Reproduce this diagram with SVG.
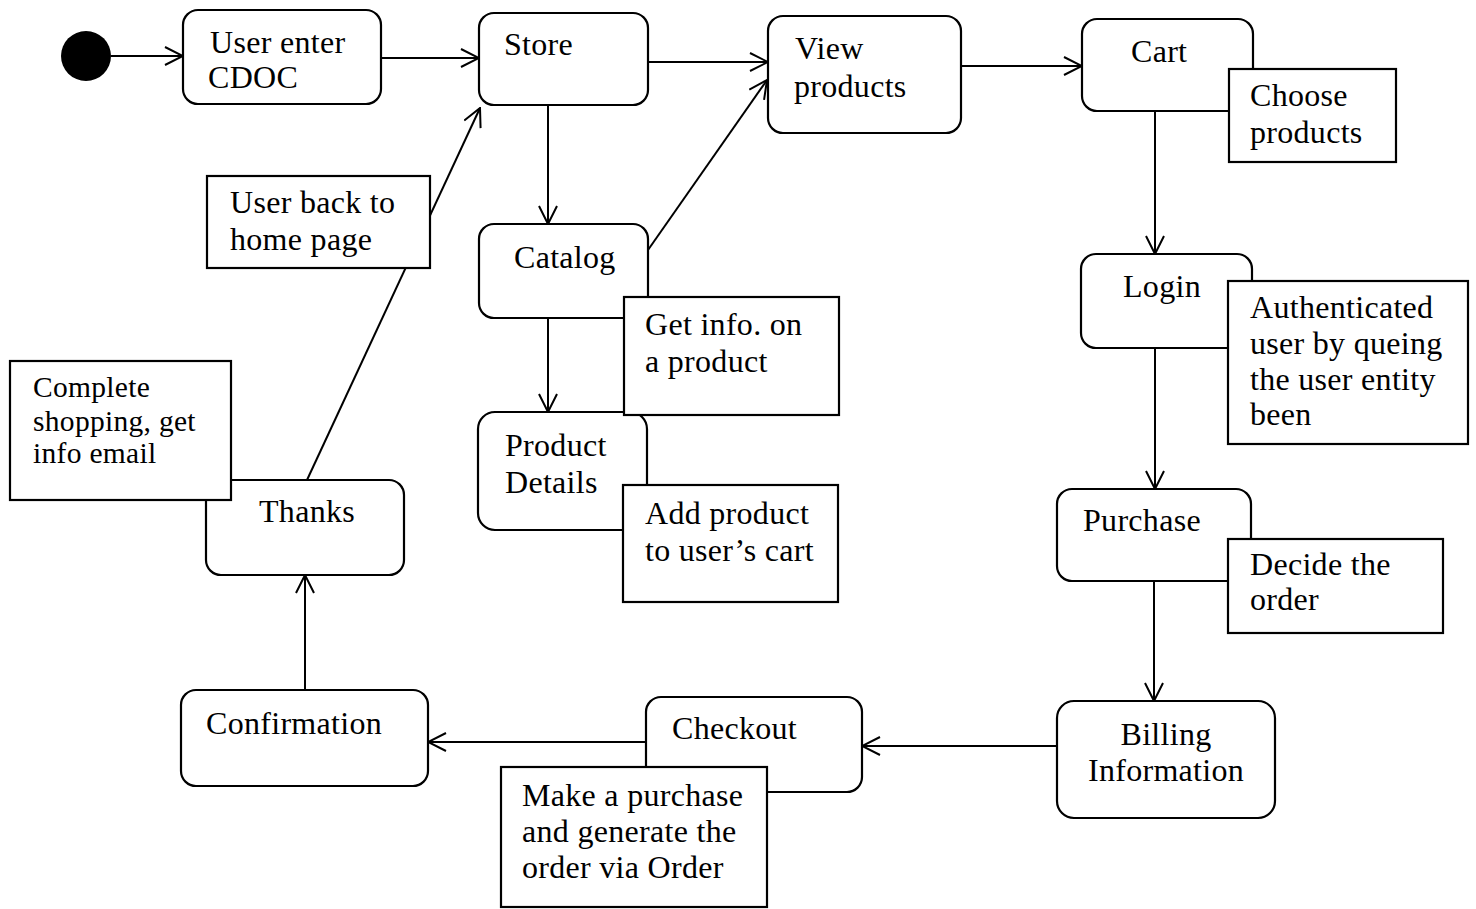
<svg xmlns="http://www.w3.org/2000/svg" width="1476" height="909" viewBox="0 0 1476 909">
  <style>
    .state { fill: #fff; stroke: #000; stroke-width: 2.2; }
    .note { fill: #fff; stroke: #000; stroke-width: 2.2; }
    .edge { fill: none; stroke: #000; stroke-width: 2; marker-end: url(#open); }
    text { font-family: "Liberation Serif", "Times New Roman", serif; font-size: 32px; letter-spacing: 0.3px; fill: #000; }
    .small { font-size: 29.5px; }
  </style>
  <defs>
    <marker id="open" viewBox="0 0 20 20" refX="19" refY="10" markerWidth="20" markerHeight="20" markerUnits="userSpaceOnUse" orient="auto">
      <path d="M1,1 L19,10 L1,19" fill="none" stroke="#000" stroke-width="2"/>
    </marker>
  </defs>

  <rect width="1476" height="909" fill="#fff"/>

  <!-- transitions -->
  <g id="connectors">
    <line class="edge" x1="111" y1="56" x2="183" y2="56"/>
    <line class="edge" x1="381" y1="58" x2="479" y2="58"/>
    <line class="edge" x1="648" y1="62" x2="768" y2="62"/>
    <line class="edge" x1="961" y1="66" x2="1082" y2="66"/>
    <line class="edge" x1="1155" y1="111" x2="1155" y2="254"/>
    <line class="edge" x1="1155" y1="348" x2="1155" y2="489"/>
    <line class="edge" x1="1154" y1="581" x2="1154" y2="701"/>
    <line class="edge" x1="1057" y1="746" x2="862" y2="746"/>
    <line class="edge" x1="646" y1="742" x2="428" y2="742"/>
    <line class="edge" x1="305" y1="690" x2="305" y2="575"/>
    <line class="edge" x1="307" y1="480" x2="480" y2="108"/>
    <line class="edge" x1="548" y1="105" x2="548" y2="224"/>
    <line class="edge" x1="648" y1="250" x2="767" y2="80"/>
    <line class="edge" x1="548" y1="318" x2="548" y2="412"/>
  </g>

  <!-- initial state -->
  <g id="start">
    <circle cx="86" cy="56" r="25" fill="#000"/>
  </g>

  <!-- activity states -->
  <g id="user-enter">
    <rect class="state" x="183" y="10" width="198" height="94" rx="15"/>
    <text x="210" y="53">User enter</text>
    <text x="208" y="88">CDOC</text>
  </g>
  <g id="store">
    <rect class="state" x="479" y="13" width="169" height="92" rx="15"/>
    <text x="504" y="55">Store</text>
  </g>
  <g id="view-products">
    <rect class="state" x="768" y="16" width="193" height="117" rx="15"/>
    <text x="795" y="59">View</text>
    <text x="794" y="97">products</text>
  </g>
  <g id="cart">
    <rect class="state" x="1082" y="19" width="171" height="92" rx="15"/>
    <text x="1131" y="62">Cart</text>
  </g>
  <g id="login">
    <rect class="state" x="1081" y="254" width="171" height="94" rx="15"/>
    <text x="1123" y="297">Login</text>
  </g>
  <g id="purchase">
    <rect class="state" x="1057" y="489" width="194" height="92" rx="15"/>
    <text x="1083" y="531">Purchase</text>
  </g>
  <g id="billing">
    <rect class="state" x="1057" y="701" width="218" height="117" rx="17"/>
    <text x="1166" y="745" text-anchor="middle">Billing</text>
    <text x="1166" y="781" text-anchor="middle">Information</text>
  </g>
  <g id="checkout">
    <rect class="state" x="646" y="697" width="216" height="95" rx="15"/>
    <text x="672" y="739">Checkout</text>
  </g>
  <g id="confirmation">
    <rect class="state" x="181" y="690" width="247" height="96" rx="15"/>
    <text x="206" y="734">Confirmation</text>
  </g>
  <g id="thanks">
    <rect class="state" x="206" y="480" width="198" height="95" rx="15"/>
    <text x="259" y="522">Thanks</text>
  </g>
  <g id="catalog">
    <rect class="state" x="479" y="224" width="169" height="94" rx="15"/>
    <text x="514" y="268">Catalog</text>
  </g>
  <g id="product-details">
    <rect class="state" x="478" y="412" width="169" height="118" rx="17"/>
    <text x="505" y="456">Product</text>
    <text x="505" y="493">Details</text>
  </g>

  <!-- notes -->
  <g id="note-choose">
    <rect class="note" x="1229" y="69" width="167" height="93"/>
    <text x="1250" y="106">Choose</text>
    <text x="1250" y="143">products</text>
  </g>
  <g id="note-auth">
    <rect class="note" x="1228" y="281" width="240" height="163"/>
    <text x="1250" y="318">Authenticated</text>
    <text x="1250" y="354">user by queing</text>
    <text x="1250" y="390">the user entity</text>
    <text x="1250" y="425">been</text>
  </g>
  <g id="note-decide">
    <rect class="note" x="1228" y="539" width="215" height="94"/>
    <text x="1250" y="575">Decide the</text>
    <text x="1250" y="610">order</text>
  </g>
  <g id="note-make">
    <rect class="note" x="501" y="767" width="266" height="140"/>
    <text x="522" y="806">Make a purchase</text>
    <text x="522" y="842">and generate the</text>
    <text x="522" y="878">order via Order</text>
  </g>
  <g id="note-complete">
    <rect class="note" x="10" y="361" width="221" height="139"/>
    <text class="small" x="33" y="397">Complete</text>
    <text class="small" x="33" y="431">shopping, get</text>
    <text class="small" x="33" y="463">info email</text>
  </g>
  <g id="note-back">
    <rect class="note" x="207" y="176" width="223" height="92"/>
    <text x="230" y="213">User back to</text>
    <text x="230" y="250">home page</text>
  </g>
  <g id="note-info">
    <rect class="note" x="624" y="297" width="215" height="118"/>
    <text x="645" y="335">Get info. on</text>
    <text x="645" y="372">a product</text>
  </g>
  <g id="note-add">
    <rect class="note" x="623" y="485" width="215" height="117"/>
    <text x="645" y="524">Add product</text>
    <text x="645" y="561">to user’s cart</text>
  </g>
</svg>
